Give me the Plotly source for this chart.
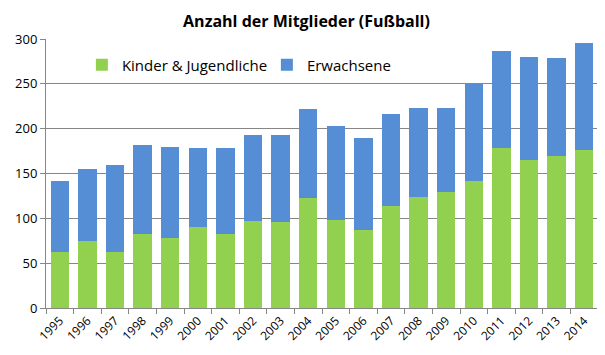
import plotly.graph_objects as go

years = [str(y) for y in range(1995, 2015)]
kinder = [63, 75, 63, 83, 78, 90, 82, 97, 96, 123, 98, 87, 114, 124, 129, 142, 178, 165, 170, 176]
erwachsene = [79, 80, 97, 99, 102, 89, 96, 96, 97, 99, 105, 103, 102, 99, 94, 108, 109, 115, 109, 119]

FONT = "Open Sans"
fig = go.Figure()
fig.add_trace(go.Bar(x=years, y=kinder, name="Kinder & Jugendliche",
                     marker=dict(color="#92D050", line=dict(width=0))))
fig.add_trace(go.Bar(x=years, y=erwachsene, name="Erwachsene",
                     marker=dict(color="#558ED5", line=dict(width=0))))

# page body has an 8px margin, so the figure is made 8px smaller
fig.update_layout(
    barmode="stack",
    bargap=0.34,
    width=597, height=347,
    margin=dict(l=33, r=7, t=31, b=47),
    paper_bgcolor="white", plot_bgcolor="white",
    font=dict(family=FONT, size=12, color="black"),
    title=dict(text="<b>Anzahl der Mitglieder (Fußball)</b>", x=0.5, xanchor="center",
               y=0.96, yanchor="middle", font=dict(family=FONT, size=16, color="black")),
    legend=dict(orientation="h", x=0.065, y=0.903, xanchor="left", yanchor="middle",
                bgcolor="rgba(0,0,0,0)", font=dict(family=FONT, size=15),
                traceorder="normal", itemwidth=30, entrywidth=140, entrywidthmode="pixels"),
    showlegend=True,
)
fig.update_xaxes(type="category", tickangle=-45, showgrid=False,
                 showline=True, linecolor="#868686", linewidth=1,
                 ticks="outside", tickson="boundaries", ticklen=5, tickcolor="#868686",
                 tickfont=dict(family=FONT, size=12))
fig.update_yaxes(range=[0, 300], dtick=50, showgrid=True, gridcolor="#868686", gridwidth=1,
                 showline=True, linecolor="#868686", linewidth=1,
                 ticks="outside", ticklen=5, tickcolor="#868686", zeroline=False,
                 tickfont=dict(family=FONT, size=13))

fig.write_html("out.html")
